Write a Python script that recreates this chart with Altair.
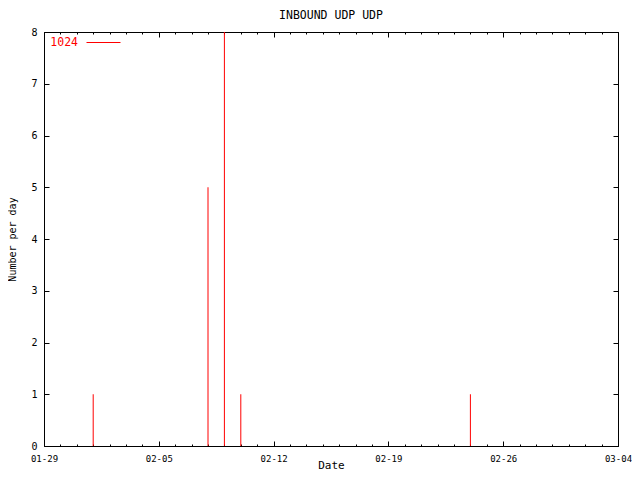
import altair as alt
import pandas as pd

# ---- data ----
dates = ["2008-02-01", "2008-02-08", "2008-02-09", "2008-02-10", "2008-02-24"]
counts = [1, 5, 8, 1, 1]
ports = ["1024", "1024", "1024", "1024", "1024"]
week_ticks = ["2008-01-29", "2008-02-05", "2008-02-12", "2008-02-19", "2008-02-26", "2008-03-04"]
y_ticks = [0, 1, 2, 3, 4, 5, 6, 7, 8]
x_start, x_end = "2008-01-29", "2008-03-04"

FONT = "DejaVu Sans Mono"

df = pd.DataFrame({"date": dates, "count": counts, "port": ports})


def dt(s):
    y, m, d = map(int, s.split("-"))
    return alt.DateTime(year=y, month=m, date=d, utc=True)


week_vals = [dt(s) for s in week_ticks]
day_vals = [dt(d.strftime("%Y-%m-%d")) for d in pd.date_range(x_start, x_end)]

xscale = alt.Scale(type="utc", domain=[dt(x_start), dt(x_end)], nice=False)
yscale = alt.Scale(domain=[0, 8], nice=False)

common_axis = dict(domain=False, grid=False, tickColor="black", tickWidth=1)

base = alt.Chart(df)

# layer 1: impulses + bottom major axis + left axis + legend
l1 = base.mark_rule(strokeWidth=1).encode(
    x=alt.X("date:T", scale=xscale, title="Date",
            axis=alt.Axis(orient="bottom", values=week_vals, format="%m-%d",
                          tickSize=5, offset=-5, labelPadding=8,
                          labelFont=FONT, labelFontSize=9, labelColor="black",
                          labelFlush=False, labelOverlap=False,
                          titleFont=FONT, titleFontSize=11, titleFontWeight="normal",
                          titleColor="black", titleBaseline="alphabetic", titleY=27,
                          **common_axis)),
    y=alt.Y("count:Q", scale=yscale, title="Number per day",
            axis=alt.Axis(orient="left", values=y_ticks, tickSize=5, offset=-5,
                          labelPadding=7, labelFont=FONT, labelFontSize=10,
                          labelColor="black",
                          titleFont=FONT, titleFontSize=10, titleFontWeight="normal",
                          titleColor="black", titlePadding=13, **common_axis)),
    y2=alt.datum(0),
    color=alt.Color("port:N", scale=alt.Scale(domain=["1024"], range=["#ff0000"]),
                    legend=alt.Legend(orient="none", legendX=42, legendY=-7,
                                      title=None, symbolType="stroke",
                                      symbolSize=1156, symbolStrokeWidth=1,
                                      labelAlign="right", labelOffset={"expr": "-43"},
                                      labelColor="#ff0000", labelFont=FONT,
                                      labelFontSize=11.5, padding=0)),
)

# layer 2: bottom minor (daily) ticks + right mirrored axis
l2 = base.mark_rule(opacity=0).encode(
    x=alt.X("date:T", scale=xscale, title=None,
            axis=alt.Axis(orient="bottom", values=day_vals, tickSize=2, offset=-2,
                          labels=False, **common_axis)),
    y=alt.Y("count:Q", scale=yscale, title=None,
            axis=alt.Axis(orient="right", values=y_ticks, tickSize=5, offset=-5,
                          labels=False, **common_axis)),
    y2=alt.datum(0),
)

# layer 3: top mirrored major ticks
l3 = base.mark_rule(opacity=0).encode(
    x=alt.X("date:T", scale=xscale, title=None,
            axis=alt.Axis(orient="top", values=week_vals, tickSize=5, offset=-5,
                          labels=False, **common_axis)),
    y=alt.Y("count:Q", scale=yscale, axis=None),
    y2=alt.datum(0),
)

# layer 4: top mirrored minor ticks
l4 = base.mark_rule(opacity=0).encode(
    x=alt.X("date:T", scale=xscale, title=None,
            axis=alt.Axis(orient="top", values=day_vals, tickSize=2, offset=-2,
                          labels=False, **common_axis)),
    y=alt.Y("count:Q", scale=yscale, axis=None),
    y2=alt.datum(0),
)

chart = alt.layer(l1, l2, l3, l4).resolve_axis(
    x="independent", y="independent"
).properties(
    width=574,
    height=414,
    autosize=alt.AutoSizeParams(type="none"),
    padding={"left": 36, "top": 24, "right": 14, "bottom": 26},
    title=alt.TitleParams("INBOUND UDP UDP", font=FONT, fontSize=11.5,
                          fontWeight="normal", color="black", offset=-5,
                          baseline="alphabetic"),
    background="white",
).configure_view(stroke="black", strokeWidth=1)

chart.save("out.html", embed_options={"renderer": "svg", "actions": False})
